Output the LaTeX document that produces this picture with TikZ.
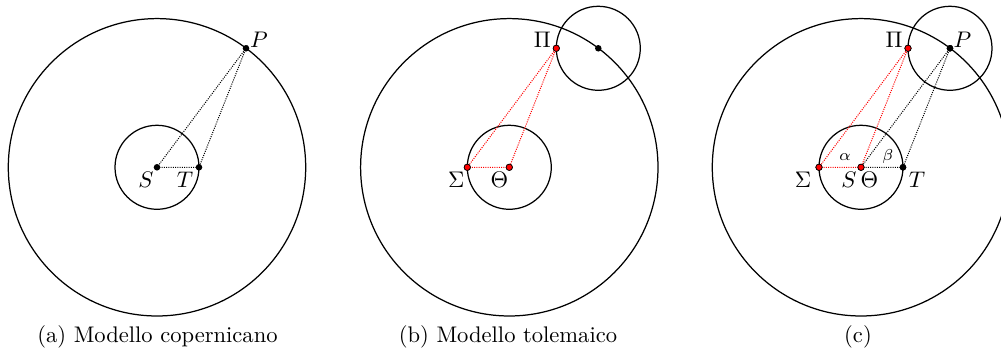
\documentclass[tikz,border=0pt]{standalone}
\usetikzlibrary{calc}
\begin{document}
\begin{tikzpicture}[x=0.4431pt,y=-0.4431pt,
  orbit/.style={draw=black,line width=0.55pt},
  blackdots/.style={draw=black,dash pattern=on 0.45pt off 0.55pt,line width=0.45pt},
  reddots/.style={draw=red,dash pattern=on 0.45pt off 0.55pt,line width=0.45pt},
  bdot/.style={circle,fill=black,inner sep=0pt,minimum size=2.9pt},
  rdot/.style={circle,fill=red,draw=black,line width=0.3pt,inner sep=0pt,minimum size=2.8pt},
  lab/.style={inner sep=0pt,anchor=center},
  angl/.style={inner sep=0pt,anchor=center,font=\scriptsize},
  capt/.style={inner sep=0pt,anchor=base}]
\useasboundingbox (0,0) rectangle (1001,349);
\clip (0,0) rectangle (1001,349);
% ---------- (a) ----------
\coordinate (aS) at (157,167.3);
\draw[orbit] (aS) circle[radius=42];
\draw[orbit] (aS) circle[radius=148.7];
\node[bdot] (Sa) at (aS) {};
\node[bdot] (Ta) at ($(aS)+(42,0)$) {};
\node[bdot] (Pa) at ($(aS)+(89,-119)$) {};
\draw[blackdots] (Sa.center) -- (Ta.center) -- (Pa.center) -- (Sa.center);
\node[lab] (lSa) at ($(Sa)+(-11,12.2)$) {$S$};
\node[lab] (lTa) at ($(Ta)+(-14,12.2)$) {$T$};
\node[lab] (lPa) at ($(Pa)+(13,-8.8)$) {$P$};
\node[capt] (capa) at (157.5,342.5) {(a) Modello copernicano};
% ---------- (b) ----------
\coordinate (bO) at (509.3,167.3);
\draw[orbit] (bO) circle[radius=42];
\draw[orbit] (bO) circle[radius=148.7];
\coordinate (bD) at ($(bO)+(89,-119)$);
\draw[orbit] (bD) circle[radius=42];
\node[rdot] (Thb) at (bO) {};
\node[rdot] (Sib) at ($(bO)+(-42,0)$) {};
\node[rdot] (Pib) at ($(bD)+(-42,0)$) {};
\node[bdot] (Db) at (bD) {};
\draw[reddots] (Sib.center) -- (Thb.center) -- (Pib.center) -- (Sib.center);
\node[rdot] at (Thb) {};
\node[rdot] at (Sib) {};
\node[rdot] at (Pib) {};
\node[lab] (lSib) at ($(Sib)+(-11,12.2)$) {$\Sigma$};
\node[lab] (lThb) at ($(Thb)+(-10,12.7)$) {$\Theta$};
\node[lab] (lPib) at ($(Pib)+(-14,-8.3)$) {$\Pi$};
\node[capt] (capb) at (508,342.5) {(b) Modello tolemaico};
% ---------- (c) ----------
\coordinate (cS) at (861,167.3);
\draw[orbit] (cS) circle[radius=42];
\draw[orbit] (cS) circle[radius=148.7];
\coordinate (cP) at ($(cS)+(89,-119)$);
\draw[orbit] (cP) circle[radius=42];
\node[bdot] (Tc) at ($(cS)+(42,0)$) {};
\node[bdot] (Pc) at (cP) {};
\node[rdot] (Sc) at (cS) {};
\node[rdot] (Sic) at ($(cS)+(-42,0)$) {};
\node[rdot] (Pic) at ($(cP)+(-42,0)$) {};
\draw[blackdots] (Sc.center) -- (Tc.center) -- (Pc.center) -- (Sc.center);
\draw[reddots] (Sic.center) -- (Sc.center) -- (Pic.center) -- (Sic.center);
\node[bdot] at (Tc) {};
\node[bdot] at (Pc) {};
\node[rdot] at (Sc) {};
\node[rdot] at (Sic) {};
\node[rdot] at (Pic) {};
\node[lab] (lSic) at ($(Sic)+(-16,12.2)$) {$\Sigma$};
\node[lab] (lSc) at ($(Sc)+(-12,12.2)$) {$S$};
\node[lab] (lThc) at ($(Sc)+(8.5,12.5)$) {$\Theta$};
\node[lab] (lTc) at ($(Tc)+(14,12.2)$) {$T$};
\node[lab] (lPc) at ($(Pc)+(12.5,-8.8)$) {$P$};
\node[lab] (lPic) at ($(Pic)+(-14,-8.3)$) {$\Pi$};
\node[angl] (alc) at (845,157) {$\alpha$};
\node[angl] (bec) at (888,157) {$\beta$};
\node[capt] (capc) at (858,342.5) {(c)};
\end{tikzpicture}
\end{document}
